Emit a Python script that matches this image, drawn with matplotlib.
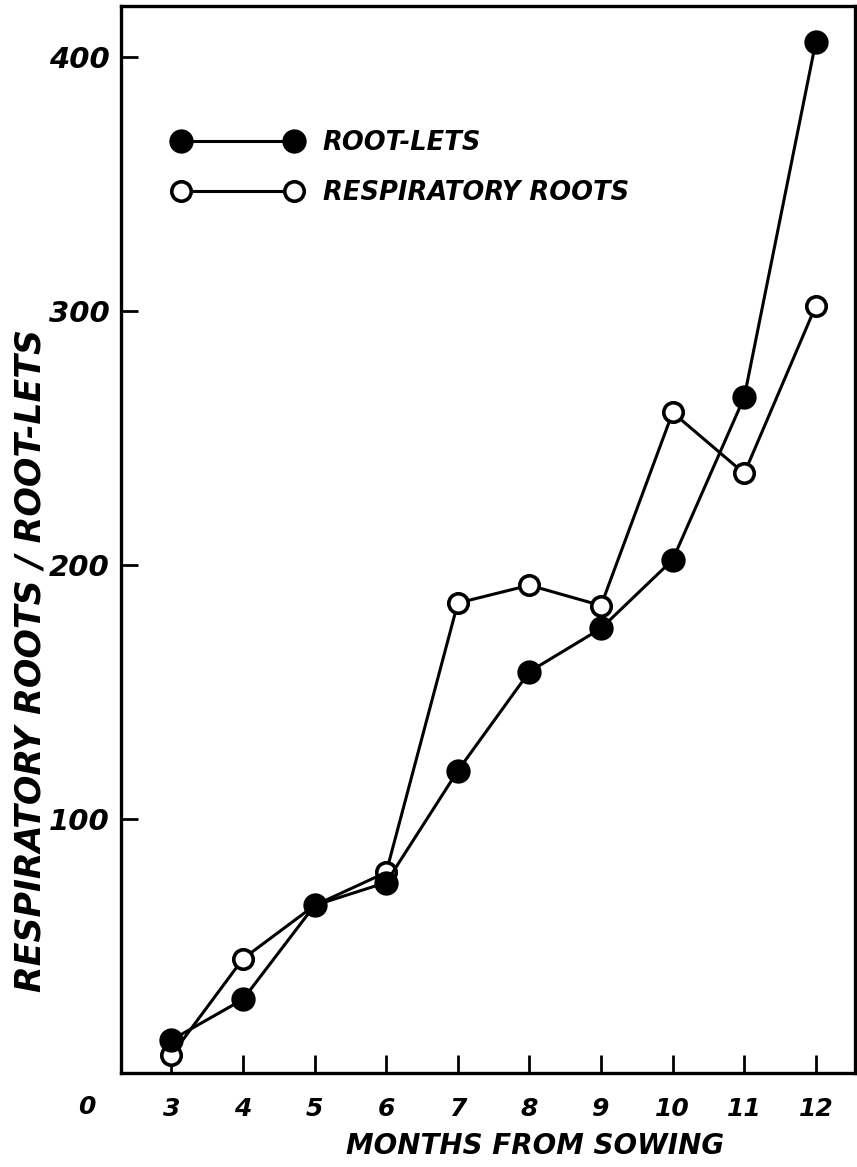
import matplotlib
matplotlib.use("Agg")
import matplotlib.pyplot as plt

# values
months = [3, 4, 5, 6, 7, 8, 9, 10, 11, 12]
root_lets = [13, 29, 66, 75, 119, 158, 175, 202, 266, 406]
respiratory_roots = [7, 45, 66, 79, 185, 192, 184, 260, 236, 302]

y_ticks = [100, 200, 300, 400]
x_ticks = [3, 4, 5, 6, 7, 8, 9, 10, 11, 12]

plt.rcParams['font.family'] = ['DejaVu Sans']
plt.rcParams['font.style'] = 'italic'
plt.rcParams['font.weight'] = 'bold'
plt.rcParams['axes.labelweight'] = 'bold'

fig = plt.figure(figsize=(8.57, 11.67), dpi=100)
ax = fig.add_axes([0.1412, 0.0805, 0.8565, 0.9144])

lw = 2.2
ax.plot(months, root_lets, color='black', lw=lw, marker='o', ms=16,
        mfc='black', mec='black', mew=1.5, label='ROOT-LETS', zorder=3)
ax.plot(months, respiratory_roots, color='black', lw=lw, marker='o', ms=14,
        mfc='white', mec='black', mew=2.6, label='RESPIRATORY ROOTS', zorder=2)

ax.set_xlim(2.296, 12.547)
ax.set_ylim(0, 420)

ax.set_xticks(x_ticks)
ax.set_yticks(y_ticks)
ax.tick_params(axis='x', direction='in', length=13, width=2, pad=17,
               labelsize=18)
ax.tick_params(axis='y', direction='in', length=12, width=2, pad=8,
               labelsize=21)
for spine in ax.spines.values():
    spine.set_linewidth(2.4)

ax.text(-0.046, -0.032, '0', transform=ax.transAxes, ha='center', va='center',
        fontsize=18)

ax.set_xlabel('MONTHS FROM SOWING', fontsize=20)
ax.xaxis.set_label_coords(0.564, -0.055)
ax.set_ylabel('RESPIRATORY ROOTS / ROOT-LETS', fontsize=25)
ax.yaxis.set_label_coords(-0.1, 0.387)

leg = ax.legend(loc='upper left', bbox_to_anchor=(0.04, 0.905), frameon=False,
                fontsize=18.5, handlelength=5.0, numpoints=2, handletextpad=0.8,
                labelspacing=0.9)

fig.savefig('out.png', dpi=100)
